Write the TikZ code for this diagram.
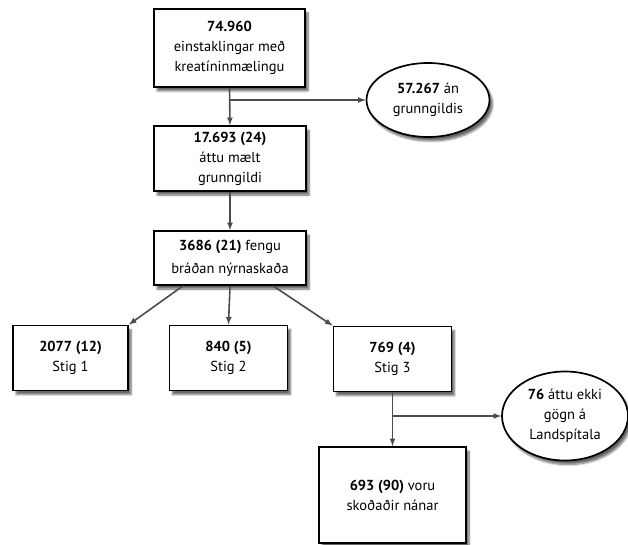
\documentclass[tikz,border=0pt]{standalone}
\usepackage{fontspec}
\setmainfont{PT Sans}
\usepackage{tikz}
\usetikzlibrary{
	arrows,
	shadows.blur,
	shapes.geometric
}
\tikzstyle{every picture}+=[>=latex]
\definecolor{lgray}{rgb}{0.3, 0.3, 0.3}
\tikzstyle{box}=[draw, line width=1.7pt, fill=white, align=center, inner sep=1pt,
	blur shadow={shadow xshift=3pt, shadow yshift=-4pt, shadow blur steps=8, shadow opacity=60}]
\tikzstyle{bubble}=[box, ellipse, inner sep=0pt]
\tikzstyle{stage}=[box, minimum width=118pt, minimum height=65pt]
\tikzstyle{link}=[->, line width=1.6pt, draw=lgray]

\begin{document}
\begin{tikzpicture}[x=1pt, y=-1pt, font=\fontsize{14.5}{20}\selectfont]
	\useasboundingbox (0,0) rectangle (628,545);

	% Screening
		\node[box, minimum width=151pt, minimum height=78pt] (all) at (229.5,48)
			{\textbf{74.960}\\einstaklingar með\\kreatíninmælingu};
		\node[bubble, minimum width=123pt, minimum height=74pt] (nobase) at (428,100)
			{\textbf{57.267} án\\grunngildis};
		\node[box, minimum width=152pt, minimum height=65pt] (base) at (230,158.5)
			{\textbf{17.693 (24)}\\áttu mælt\\grunngildi};
		\node[box, minimum width=152pt, minimum height=54pt, font=\fontsize{14.5}{23}\selectfont] (aki) at (230,258)
			{\textbf{3686 (21)} fengu\\bráðan nýrnaskaða};

	% Stages
		\node[stage, minimum width=115pt] (st1) at (70.5,358) {\textbf{2077 (12)}\\Stig 1};
		\node[stage] (st2) at (228.5,358) {\textbf{840 (5)}\\Stig 2};
		\node[stage] (st3) at (392.5,359) {\textbf{769 (4)}\\Stig 3};

	% Records
		\node[bubble, minimum width=126pt, minimum height=89pt] (nodata) at (565,416)
			{\textbf{76} áttu ekki\\gögn á\\Landspítala};
		\node[box, minimum width=147pt, minimum height=96pt] (study) at (392.5,495)
			{\textbf{693 (90)} voru\\skoðaðir nánar};

	% Connectors
		\coordinate (split1) at (all.south |- nobase.west);
		\coordinate (split2) at (st3.south |- nodata.west);
		\draw[link] (all.south) -- (base.north);
		\draw[link] (split1) -- (nobase.west);
		\draw[link] (base.south) -- (aki.north);
		\draw[link] ([xshift=-47pt]aki.south) -- (st1.north east);
		\draw[link] (aki.south) -- (st2.north);
		\draw[link] ([xshift=43pt]aki.south) -- (st3.north west);
		\draw[link] (st3.south) -- (study.north);
		\draw[link] (split2) -- (nodata.west);
\end{tikzpicture}
\end{document}
